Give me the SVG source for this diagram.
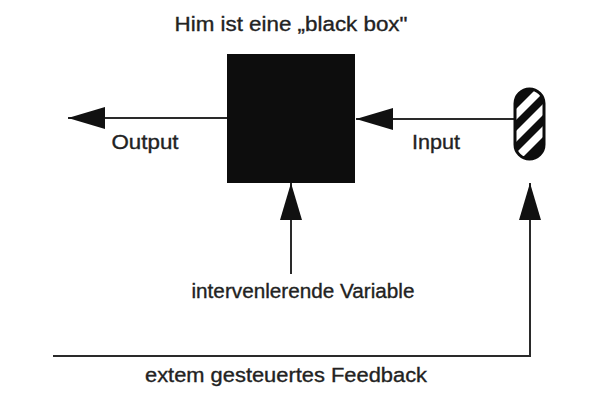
<svg xmlns="http://www.w3.org/2000/svg" width="593" height="394" viewBox="0 0 593 394">
  <style>
    .lbl { font-family: "Liberation Sans", Arial, Helvetica, sans-serif; font-size: 20.5px; fill: #222; stroke: #222; stroke-width: 0.35px; }
    .wire { fill: none; stroke: #2a2a2a; stroke-width: 2; }
  </style>
  <defs>
    <marker id="head" markerUnits="userSpaceOnUse" markerWidth="38" markerHeight="22" refX="37" refY="11" orient="auto">
      <path d="M0,0 L37,11 L0,22 Z" fill="#111"/>
    </marker>
    <clipPath id="pillClip">
      <rect x="515" y="89" width="29" height="70" rx="14.5" ry="14.5"/>
    </clipPath>
  </defs>

  <rect width="593" height="394" fill="#fff"/>

  <!-- connectors -->
  <g id="connectors">
    <line class="wire" x1="227" y1="118" x2="68" y2="118" marker-end="url(#head)"/>
    <line class="wire" x1="514" y1="119" x2="356" y2="119" marker-end="url(#head)"/>
    <line class="wire" x1="291" y1="274" x2="291" y2="183" marker-end="url(#head)"/>
    <polyline class="wire" points="53,356 530,356 530,183" marker-end="url(#head)"/>
  </g>

  <!-- black box -->
  <g id="blackbox">
    <rect x="227" y="54" width="128" height="129" fill="#0d0d0d"/>
    <text class="lbl" x="291" y="31" text-anchor="middle" textLength="233" lengthAdjust="spacingAndGlyphs">Him ist eine „black box"</text>
  </g>

  <!-- striped source -->
  <g id="source">
    <g clip-path="url(#pillClip)">
      <rect x="510" y="85" width="40" height="80" fill="#0d0d0d"/>
      <polygon points="510,115 550,75 550,86 510,126" fill="#fff"/>
      <polygon points="510,137 550,97 550,108 510,148" fill="#fff"/>
      <polygon points="510,159 550,119 550,130 510,170" fill="#fff"/>
    </g>
    <rect x="515" y="89" width="29" height="70" rx="14.5" ry="14.5" fill="none" stroke="#0d0d0d" stroke-width="3"/>
  </g>

  <g id="output">
    <text class="lbl" x="145" y="149" text-anchor="middle" textLength="67" lengthAdjust="spacingAndGlyphs">Output</text>
  </g>

  <g id="input">
    <text class="lbl" x="436" y="149" text-anchor="middle" textLength="48" lengthAdjust="spacingAndGlyphs">Input</text>
  </g>

  <g id="variable">
    <text class="lbl" x="303" y="298" text-anchor="middle" textLength="223" lengthAdjust="spacingAndGlyphs">intervenlerende Variable</text>
  </g>

  <g id="feedback">
    <text class="lbl" x="286" y="382" text-anchor="middle" textLength="282" lengthAdjust="spacingAndGlyphs">extem gesteuertes Feedback</text>
  </g>
</svg>
